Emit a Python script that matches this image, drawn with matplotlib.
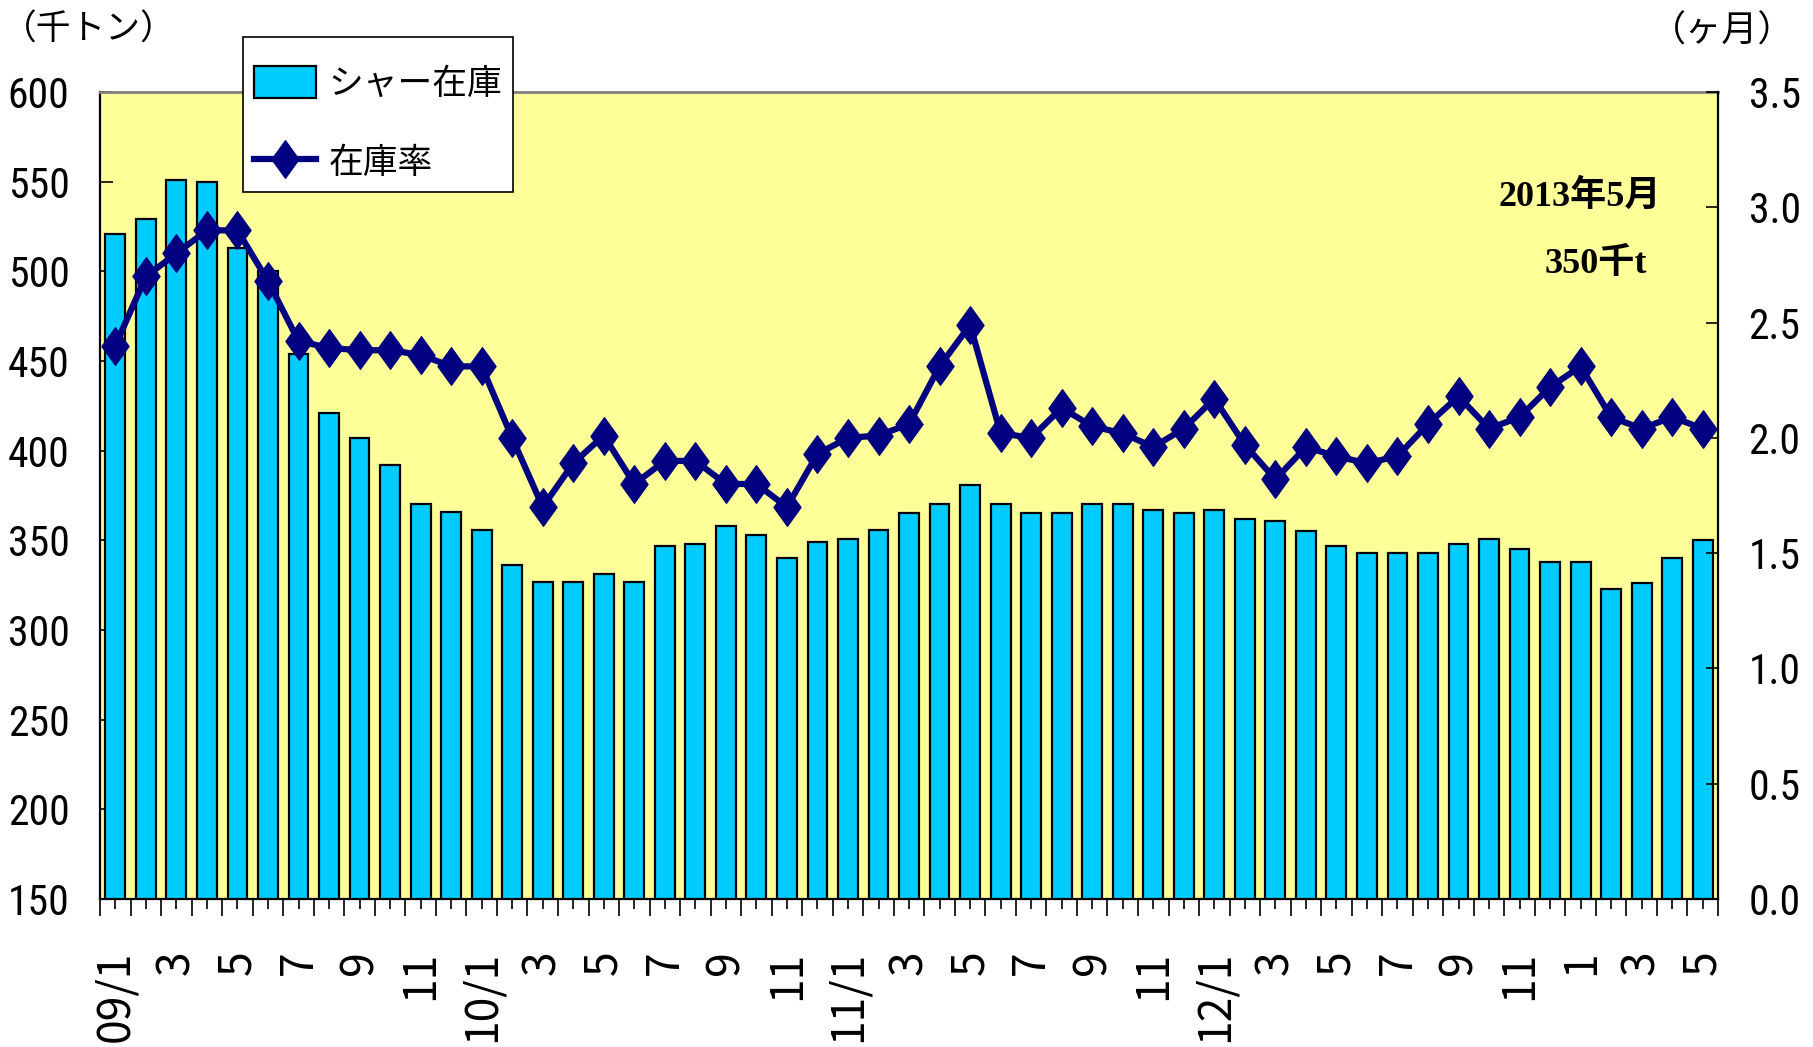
import numpy as np
import matplotlib
matplotlib.use("Agg")
import matplotlib.pyplot as plt
from matplotlib.path import Path
from matplotlib.patches import Rectangle
from matplotlib.ticker import MultipleLocator, FormatStrFormatter
from matplotlib import font_manager as fm

# ---------------- data ----------------
x_labels = ['09/1', '', '3', '', '5', '', '7', '', '9', '', '11', '',
            '10/1', '', '3', '', '5', '', '7', '', '9', '', '11', '',
            '11/1', '', '3', '', '5', '', '7', '', '9', '', '11', '',
            '12/1', '', '3', '', '5', '', '7', '', '9', '', '11', '',
            '1', '', '3', '', '5']

stock = [521, 529, 551, 550, 513, 500, 454, 421, 407, 392, 370, 366,
         356, 336, 327, 327, 331, 327, 347, 348, 358, 353, 340, 349,
         351, 356, 365, 370, 381, 370, 365, 365, 370, 370, 367, 365,
         367, 362, 361, 355, 347, 343, 343, 343, 348, 351, 345, 338,
         338, 323, 326, 340, 350]

ratio = [2.40, 2.70, 2.80, 2.90, 2.90, 2.68, 2.42, 2.39, 2.38, 2.38, 2.36, 2.31,
         2.31, 2.00, 1.70, 1.89, 2.01, 1.80, 1.90, 1.90, 1.80, 1.80, 1.70, 1.93,
         2.00, 2.01, 2.06, 2.31, 2.49, 2.02, 2.00, 2.13, 2.05, 2.02, 1.96, 2.04,
         2.17, 1.97, 1.82, 1.96, 1.92, 1.89, 1.92, 2.06, 2.18, 2.04, 2.09, 2.22,
         2.31, 2.09, 2.04, 2.09, 2.04]

series_names = ['シャー在庫', '在庫率']
left_unit = '（千トン）'
right_unit = '（ヶ月）'
note_date = '2013年5月'
note_value = '350千t'

# ---------------- fonts ----------------
avail = {f.name for f in fm.fontManager.ttflist}
narrow = next((n for n in ['Liberation Sans Narrow', 'Roboto Condensed', 'Liberation Sans']
               if n in avail), 'DejaVu Sans')
jp = ['Noto Sans CJK JP', 'DejaVu Sans']

# ---------------- figure ----------------
W, H = 1813, 1047
fig = plt.figure(figsize=(W / 100, H / 100), dpi=100)
ax = fig.add_axes([0.0552, 0.1414, 0.8924, 0.7707])
ax.set_facecolor('#FFFF99')

x = np.arange(len(stock))
bars = ax.bar(x, stock, width=0.65, color='#00CCFF', edgecolor='black',
              linewidth=1.6, zorder=2)
ax.set_xlim(-0.5, len(stock) - 0.5)
ax.set_ylim(150, 600)
ax.yaxis.set_major_locator(MultipleLocator(50))

ax2 = ax.twinx()
ax2.set_ylim(0, 3.5)
ax2.yaxis.set_major_locator(MultipleLocator(0.5))
ax2.yaxis.set_major_formatter(FormatStrFormatter('%.1f'))

diamond = Path([(0, 1), (0.72, 0), (0, -1), (-0.72, 0), (0, 1)],
               [Path.MOVETO, Path.LINETO, Path.LINETO, Path.LINETO, Path.CLOSEPOLY])
line, = ax2.plot(x, ratio, color='#000080', lw=4.5, marker=diamond,
                 markersize=27, markerfacecolor='#000080',
                 markeredgecolor='#000080', zorder=3)

# x ticks
ax.set_xticks(x)
ax.set_xticklabels(x_labels, rotation=90, fontsize=32, family=jp)
ax.set_xticks(np.arange(-0.5, len(stock), 1), minor=True)
ax.tick_params(axis='x', which='major', direction='out', length=7, width=1.2, pad=30)
ax.tick_params(axis='x', which='minor', direction='out', length=12, width=1.2)

# y ticks
ax.tick_params(axis='y', which='major', direction='in', length=9, width=1.2,
               pad=22, labelsize=30)
ax2.tick_params(axis='y', which='major', direction='in', length=9, width=1.2,
                pad=22, labelsize=30)
for lab in ax.get_yticklabels() + ax2.get_yticklabels():
    lab.set_family(narrow)

# spines
ax.spines['top'].set_color('#808080')
ax.spines['top'].set_linewidth(2)
for s in ['left', 'bottom']:
    ax.spines[s].set_color('black')
    ax.spines[s].set_linewidth(1.6)
ax.spines['right'].set_visible(False)
for s in ['top', 'left', 'bottom']:
    ax2.spines[s].set_visible(False)
ax2.spines['right'].set_color('black')
ax2.spines['right'].set_linewidth(1.6)

# legend: white box with black edge, entries placed inside
frame = Rectangle((243 / W, 1 - 192 / H), 270 / W, 155 / H,
                  transform=fig.transFigure, facecolor='white',
                  edgecolor='black', linewidth=1.2, zorder=4)
fig.add_artist(frame)
leg = fig.legend([bars, line], series_names, loc='upper left',
                 bbox_to_anchor=(254 / W, 1 - 66 / H), bbox_transform=fig.transFigure,
                 frameon=False, borderaxespad=0, borderpad=0,
                 prop={'family': jp, 'size': 25},
                 handlelength=1.78, handleheight=1.05, labelspacing=1.25,
                 handletextpad=0.36)
leg.set_zorder(5)

# unit labels
fig.text(0.001, 1 - 30 / H, left_unit, fontsize=25, family=jp,
         ha='left', va='center')
fig.text(1794 / W, 1 - 32 / H, right_unit, fontsize=26, family=jp,
         ha='right', va='center')

# annotation
serif = ['Liberation Serif', 'Noto Sans CJK JP', 'DejaVu Serif']
ax2.text(0.9147, 0.870, note_date, transform=ax.transAxes, ha='center',
         va='center', fontsize=26, fontweight='bold', family=serif)
ax2.text(0.9243, 0.786, note_value, transform=ax.transAxes, ha='center',
         va='center', fontsize=26, fontweight='bold', family=serif)

fig.savefig('out.png', dpi=100, facecolor='white')
